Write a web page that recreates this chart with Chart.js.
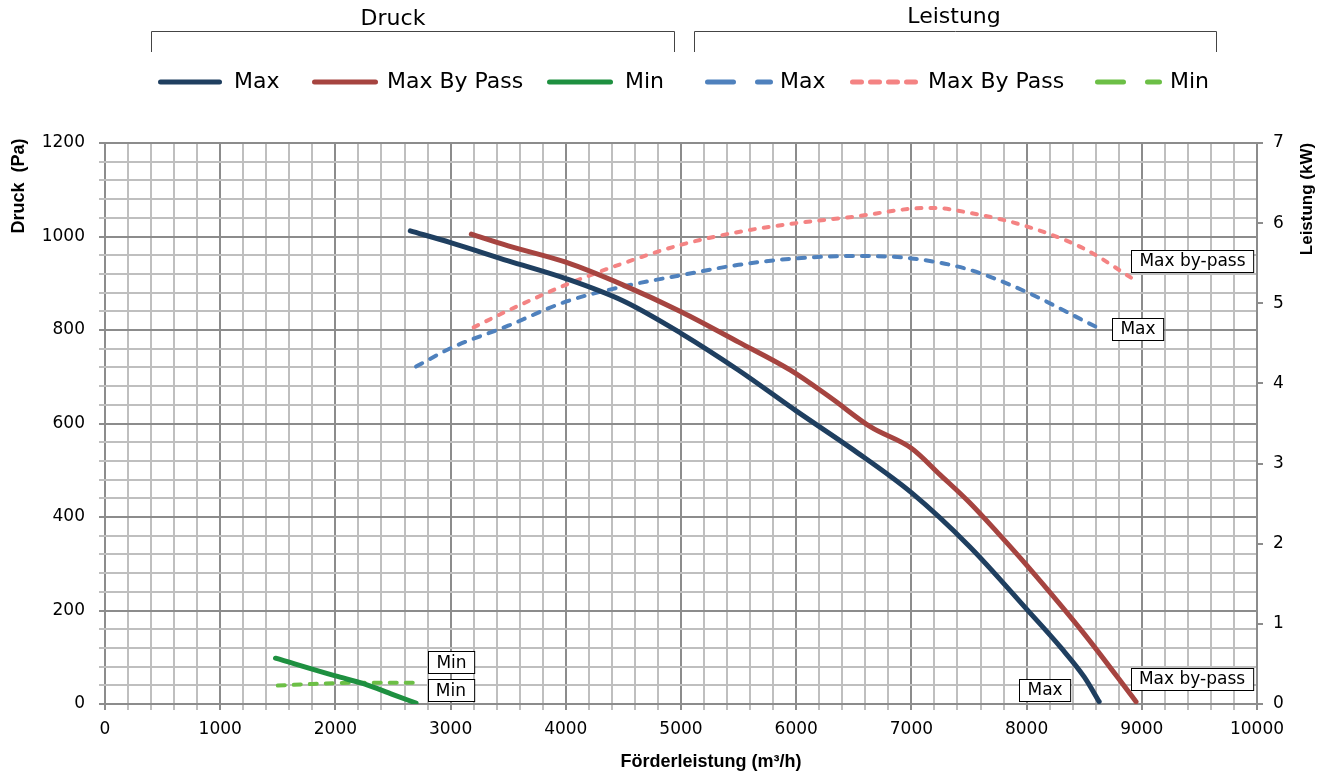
<!DOCTYPE html>
<html><head><meta charset="utf-8">
<script src="https://cdn.jsdelivr.net/npm/chart.js@4/dist/chart.umd.min.js"></script>
<style>html,body{margin:0;padding:0;background:#fff;}canvas{display:block;}</style>
</head><body>
<canvas id="c" width="1329" height="778"></canvas>
<script>
// ---------- DATA ----------
const xTickValues = [0,1000,2000,3000,4000,5000,6000,7000,8000,9000,10000];
const leftTickValues = [0,200,400,600,800,1000,1200];
const rightTickValues = [0,1,2,3,4,5,6,7];

const seriesNames = ['Max','Max By Pass','Min'];
const groupTitles = ['Druck','Leistung'];

// Druck (Pa)
const druckMaxFlow = [2650,3000,3500,4000,4500,5000,5500,6000,6500,7000,7500,8000,8300,8500,8630];
const druckMaxVal  = [1012,987,948,910,862,793,714,627,543,452,338,203,120,58,5];
const druckBPFlow  = [3180,3500,4000,4500,5000,5500,5950,6300,6650,7000,7250,7500,7750,8000,8500,8950];
const druckBPVal   = [1005,980,945,896,839,774,714,655,592,547,490,432,366,297,150,5];
const druckMinFlow = [1480,2000,2250,2500,2700];
const druckMinVal  = [98,60,43,20,2];

// Leistung (kW)
const leistMaxFlow = [2700,3000,3500,4000,4500,5000,5500,6000,6500,7000,7500,8000,8500,8640];
const leistMaxVal  = [4.21,4.44,4.72,5.02,5.21,5.35,5.48,5.56,5.59,5.56,5.42,5.14,4.78,4.68];
const leistBPFlow  = [3200,3500,4000,4500,5000,5500,6000,6500,7000,7200,7500,8000,8500,8950];
const leistBPVal   = [4.70,4.91,5.23,5.50,5.73,5.89,6.00,6.08,6.18,6.19,6.13,5.96,5.68,5.28];
const leistMinFlow = [1500,1800,2200,2700];
const leistMinVal  = [0.23,0.25,0.265,0.265];

// data labels (text, flow, value, axis)
const labelTexts = ['Min','Min','Max','Max by-pass','Max by-pass','Max'];
const labelFlow  = [3008,3003,8160,9436,9440,8967];
const labelValue = [89,29,30,53.5,5.53,4.68];
const labelAxis  = ['y','y','y','y','y1','y1'];

// ---------- STYLE ----------
const FONT = "'DejaVu Sans', sans-serif";
const BOLD = "'Liberation Sans', Arial, sans-serif";
const MAJOR = '#8c8c8c', MINOR = '#bfbfbf';

const pts = (xs, ys) => xs.map((x,i)=>({x, y: ys[i]}));

const styles = [
  {color:'#1f3f60', width:5, dash:[], legendDash:[]},
  {color:'#a64440', width:5, dash:[], legendDash:[]},
  {color:'#1e9040', width:5, dash:[], legendDash:[]},
  {color:'#4f81bd', width:4, dash:[7,9], legendDash:[26,24]},
  {color:'#f48383', width:4, dash:[5,9], legendDash:[9,9]},
  {color:'#6cbf46', width:4, dash:[7,9], legendDash:[26,24]}
];
const dataSets = [
  [druckMaxFlow, druckMaxVal, 'y'],
  [druckBPFlow, druckBPVal, 'y'],
  [druckMinFlow, druckMinVal, 'y'],
  [leistMaxFlow, leistMaxVal, 'y1'],
  [leistBPFlow, leistBPVal, 'y1'],
  [leistMinFlow, leistMinVal, 'y1']
];

const datasets = dataSets.map((d,i)=>({
  label: seriesNames[i%3],
  data: pts(d[0], d[1]),
  yAxisID: d[2],
  borderColor: styles[i].color,
  backgroundColor: styles[i].color,
  borderWidth: styles[i].width,
  borderDash: styles[i].dash,
  borderCapStyle: 'round',
  borderJoinStyle: 'round',
  pointRadius: 0,
  fill: false,
  cubicInterpolationMode: 'monotone'
}));

// legend layout (pixel placement of the header)
const groupLayout = [
  {x0:151, x1:674, cx:393, base:25},
  {x0:694, x1:1216, cx:954, base:23}
];
const legendLayout = [
  [158,222,234],[312,378,387],[547,613,625],
  [705,773,780],[850,919,928],[1095,1162,1170]
];

const deco = {
  id:'deco',
  afterDatasetsDraw(chart){
    const ctx = chart.ctx;
    ctx.save();
    ctx.font = `17px ${FONT}`;
    ctx.textAlign='center'; ctx.textBaseline='middle';
    labelTexts.forEach((t,i)=>{
      const px = chart.scales.x.getPixelForValue(labelFlow[i]);
      const py = chart.scales[labelAxis[i]].getPixelForValue(labelValue[i]);
      const w = ctx.measureText(t).width + 16, h = 22;
      const x0 = Math.round(px - w/2)+0.5, y0 = Math.round(py - h/2)+0.5;
      ctx.fillStyle='#fff'; ctx.fillRect(x0,y0,w,h);
      ctx.strokeStyle='#000'; ctx.lineWidth=1; ctx.strokeRect(x0,y0,w,h);
      ctx.fillStyle='#000'; ctx.fillText(t, px, py+1);
    });
    ctx.restore();
  },
  afterDraw(chart){
    const ctx = chart.ctx;
    ctx.save();
    ctx.fillStyle='#000';
    ctx.font = `22px ${FONT}`;
    ctx.textAlign='center'; ctx.textBaseline='alphabetic';
    groupLayout.forEach((g,i)=>{
      ctx.fillText(groupTitles[i], g.cx, g.base);
      ctx.strokeStyle='#444'; ctx.lineWidth=1;
      ctx.beginPath();
      ctx.moveTo(g.x0+0.5, 52); ctx.lineTo(g.x0+0.5, 31.5);
      ctx.lineTo(g.x1+0.5, 31.5); ctx.lineTo(g.x1+0.5, 52);
      ctx.stroke();
    });
    ctx.textAlign='left'; ctx.textBaseline='middle';
    legendLayout.forEach((l,i)=>{
      const s = styles[i];
      ctx.strokeStyle = s.color; ctx.lineWidth = 5; ctx.lineCap='round';
      ctx.setLineDash(s.legendDash);
      ctx.beginPath(); ctx.moveTo(l[0]+2.5, 82); ctx.lineTo(l[1]-2.5, 82); ctx.stroke();
      ctx.setLineDash([]);
      ctx.fillStyle='#000';
      ctx.fillText(seriesNames[i%3], l[2], 82);
    });
    ctx.font = `bold 18px ${BOLD}`;
    ctx.textAlign='center'; ctx.textBaseline='middle';
    ctx.fillText('Förderleistung (m³/h)', 711, 762);
    ctx.save(); ctx.translate(19, 186); ctx.rotate(-Math.PI/2);
    ctx.fillText('Druck  (Pa)', 0, 0); ctx.restore();
    ctx.font = `bold 17px ${BOLD}`;
    ctx.save(); ctx.translate(1307, 199); ctx.rotate(-Math.PI/2);
    ctx.fillText('Leistung (kW)', 0, 0); ctx.restore();
    ctx.restore();
  }
};

const gridColor = (major)=> (c)=> (c.tick && c.tick.value % major === 0) ? MAJOR : MINOR;

new Chart(document.getElementById('c'), {
  type:'line',
  data:{datasets},
  options:{
    responsive:false, animation:false, devicePixelRatio:1,
    layout:{padding:{top:143,left:0,right:0,bottom:0}},
    plugins:{legend:{display:false}, title:{display:false}, tooltip:{enabled:false}},
    scales:{
      x:{
        type:'linear', min:0, max:10000,
        afterFit(s){ s.height = 74; },
        ticks:{stepSize:200, autoSkip:false, maxRotation:0, padding:9,
          color:'#000', font:{family:FONT, size:17},
          callback:(v)=> xTickValues.includes(v) ? String(v) : ''},
        grid:{color:gridColor(1000), lineWidth:2, tickLength:6},
        border:{display:false}
      },
      y:{
        type:'linear', position:'left', min:0, max:1200,
        afterFit(s){ s.width = 105; },
        ticks:{stepSize:40, autoSkip:false, padding:14,
          color:'#000', font:{family:FONT, size:17},
          callback:(v)=> leftTickValues.includes(v) ? String(v) : ''},
        grid:{color:gridColor(200), lineWidth:2, tickLength:6},
        border:{display:false}
      },
      y1:{
        type:'linear', position:'right', min:0, max:7,
        afterFit(s){ s.width = 72; },
        ticks:{stepSize:1, autoSkip:false, padding:10,
          color:'#000', font:{family:FONT, size:17},
          callback:(v)=> rightTickValues.includes(v) ? String(v) : ''},
        grid:{drawOnChartArea:false, color:MAJOR, lineWidth:2, tickLength:6},
        border:{display:true, color:MAJOR, width:2}
      }
    }
  },
  plugins:[deco]
});
</script>
</body></html>
